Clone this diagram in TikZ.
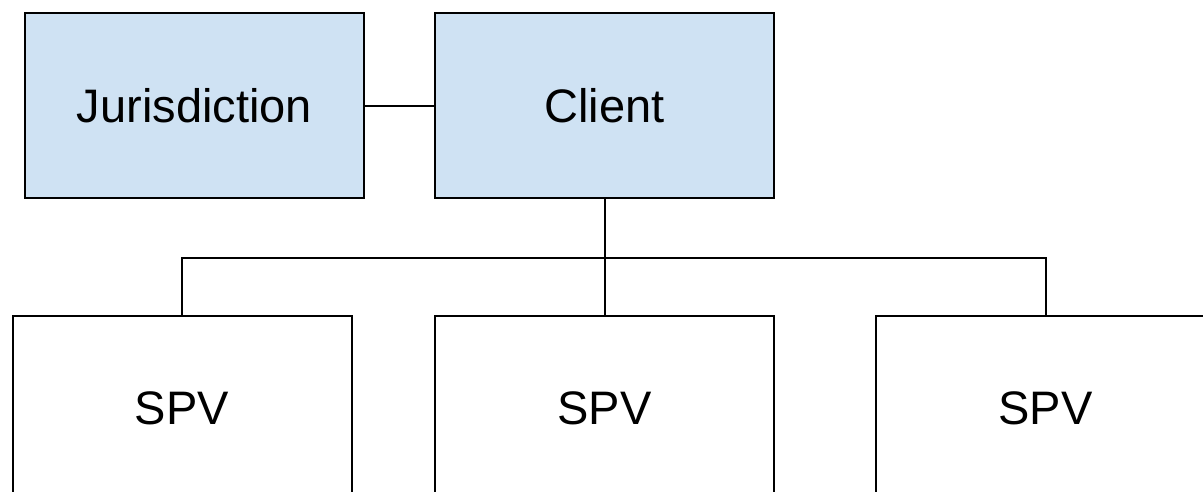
\documentclass[tikz,border=0pt]{standalone}
\usepackage{fontspec}
\setmainfont{Liberation Sans}
\definecolor{boxblue}{HTML}{CFE2F3}
\begin{document}
\begin{tikzpicture}[x=1pt,y=-1pt,
  entity/.style={draw=black, line width=2pt, rectangle,
    minimum width=339pt, minimum height=185pt, inner sep=0pt,
    font=\fontsize{47}{56}\selectfont},
  topbox/.style={entity, fill=boxblue},
  spvbox/.style={entity, fill=white},
  link/.style={draw=black, line width=2pt}]
  \useasboundingbox (0,0) rectangle (1203,492);
  \clip (0,0) rectangle (1203,492);
  \fill[white] (0,0) rectangle (1203,492);

  % upper row
  \node[topbox] (jur) at (194.5,106) {Jurisdiction};
  \node[topbox] (client) at (604.5,106) {Client};

  % lower row
  \node[spvbox] (spvA) at (182,408) {SPV};
  \node[spvbox] (spvB) at (604.5,408) {SPV};
  \node[spvbox] (spvC) at (1045.5,408) {SPV};

  % connectors
  \coordinate (bus) at (604.5,258);
  \draw[link] (jur.east) -- (client.west);
  \draw[link] (client.south) -- (spvB.north);
  \draw[link] (spvA.north) |- (bus) -| (spvC.north);
\end{tikzpicture}
\end{document}
